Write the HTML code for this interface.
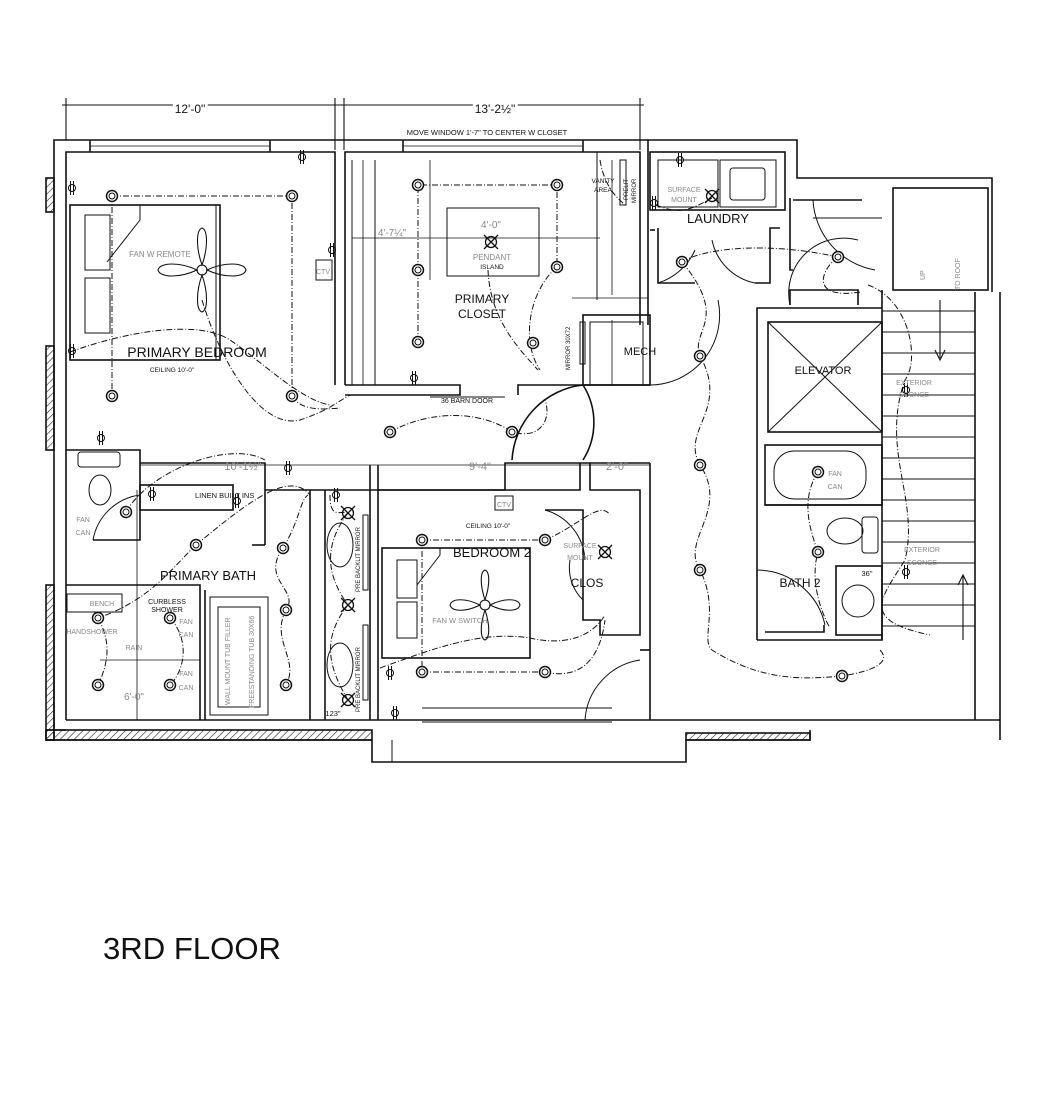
<!DOCTYPE html>
<html><head><meta charset="utf-8"><style>
html,body{margin:0;padding:0;background:#fff;}
svg{display:block;}
text{font-family:"Liberation Sans",sans-serif;fill:#111;}
.g{fill:#888;}
</style></head><body>
<svg width="1044" height="1106" viewBox="0 0 1044 1106" xmlns="http://www.w3.org/2000/svg">
<defs>
<pattern id="h" width="5" height="5" patternUnits="userSpaceOnUse" patternTransform="rotate(45)"><line x1="0" y1="0" x2="0" y2="5" stroke="#222" stroke-width="1.2"/></pattern>
<g id="L"><circle r="5.5" fill="#fff" stroke="#111" stroke-width="1.5"/><circle r="3" fill="none" stroke="#111" stroke-width="1"/></g>
<g id="X"><circle r="5.5" fill="none" stroke="#111" stroke-width="1.3"/><path d="M-7,-7L7,7M7,-7L-7,7" stroke="#111" stroke-width="1.3"/></g>
<g id="O"><circle r="3.5" fill="none" stroke="#111"/><line x1="-1.5" y1="-7" x2="-1.5" y2="7" stroke="#111"/><line x1="1.5" y1="-7" x2="1.5" y2="7" stroke="#111"/></g>
</defs>
<g fill="none" stroke="#111" stroke-width="1.6">
<line x1="62" y1="105" x2="644" y2="105" stroke-width="1.1"/>
<line x1="66" y1="98" x2="66" y2="140" stroke-width="1.1"/>
<line x1="335" y1="98" x2="335" y2="150" stroke-width="1.1"/>
<line x1="344" y1="98" x2="344" y2="150" stroke-width="1.1"/>
<line x1="640" y1="98" x2="640" y2="150" stroke-width="1.1"/>
<polyline points="54,740 54,140 645,140"/>
<polyline points="66,720 66,152 335,152 335,385"/>
<polyline points="345,385 345,152 640,152 640,325"/>
<rect x="46" y="178" width="8" height="34" fill="url(#h)"/>
<rect x="46" y="346" width="8" height="104" fill="url(#h)"/>
<rect x="46" y="585" width="8" height="155" fill="url(#h)"/>
<rect x="46" y="730" width="326" height="10" fill="url(#h)"/>
<rect x="686" y="733" width="124" height="7" fill="url(#h)"/>
<line x1="46" y1="740" x2="372" y2="740"/>
<polyline points="372,740 372,762 686,762 686,740 810,740 810,730"/>
<line x1="392" y1="740" x2="392" y2="762" stroke-width="1"/>
<line x1="66" y1="720" x2="1000" y2="720"/>
<line x1="66" y1="730" x2="46" y2="730"/>
<line x1="422" y1="722" x2="612" y2="722" stroke-width="1"/>
<line x1="422" y1="708" x2="612" y2="708" stroke-width="1"/>
<line x1="90" y1="140" x2="90" y2="152"/><line x1="270" y1="140" x2="270" y2="152"/>
<line x1="90" y1="146" x2="270" y2="146" stroke-width="0.8"/>
<line x1="403" y1="140" x2="403" y2="152"/><line x1="583" y1="140" x2="583" y2="152"/>
<line x1="403" y1="146" x2="583" y2="146" stroke-width="0.8"/>
<polyline points="645,140 797,140 797,178 992,178 992,292"/>
<polyline points="648,140 648,325"/>
<rect x="650" y="152" width="135" height="58"/>
<rect x="658" y="160" width="60" height="47" stroke-width="1"/>
<rect x="720" y="160" width="56" height="47" stroke-width="1"/>
<rect x="730" y="168" width="35" height="32" rx="3" stroke-width="1"/>
<polyline points="658,228 658,283 695,283"/>
<polyline points="655,230 650,230"/>
<polyline points="780,228 770,228 770,283 755,283"/>
<polyline points="790,198 790,270 793,270"/>
<polyline points="793,200 862,200"/>
<line x1="813" y1="218" x2="882" y2="218" stroke-width="1"/>
<rect x="893" y="188" width="95" height="102"/>
<line x1="1000" y1="292" x2="1000" y2="740"/>
<line x1="975" y1="292" x2="975" y2="720"/>
<line x1="882" y1="290" x2="882" y2="640"/>
<g stroke-width="1.1">
<line x1="882" y1="311" x2="975" y2="311"/><line x1="882" y1="332" x2="975" y2="332"/>
<line x1="882" y1="353" x2="975" y2="353"/><line x1="882" y1="374" x2="975" y2="374"/>
<line x1="882" y1="395" x2="975" y2="395"/><line x1="882" y1="416" x2="975" y2="416"/>
<line x1="882" y1="437" x2="975" y2="437"/><line x1="882" y1="458" x2="975" y2="458"/>
<line x1="882" y1="479" x2="975" y2="479"/><line x1="882" y1="500" x2="975" y2="500"/>
<line x1="882" y1="521" x2="975" y2="521"/><line x1="882" y1="542" x2="975" y2="542"/>
<line x1="882" y1="563" x2="975" y2="563"/><line x1="882" y1="584" x2="975" y2="584"/>
<line x1="882" y1="605" x2="975" y2="605"/><line x1="882" y1="626" x2="975" y2="626"/>
<line x1="940" y1="300" x2="940" y2="358"/><path d="M935,350 L940,360 L945,350"/>
<line x1="963" y1="575" x2="963" y2="640"/><path d="M958,585 L963,575 L968,585"/>
</g>
<polyline points="790,305 790,290 858,290 858,305"/>
<polyline points="757,640 757,308 882,308"/>
<rect x="768" y="322" width="114" height="110"/>
<path d="M768,322 L882,432 M882,322 L768,432" stroke-width="1"/>
<rect x="765" y="445" width="117" height="60"/>
<rect x="774" y="451" width="92" height="48" rx="20" stroke-width="1"/>
<line x1="765" y1="505" x2="882" y2="505"/>
<ellipse cx="845" cy="531" rx="18" ry="13" stroke-width="1"/>
<rect x="862" y="517" width="16" height="36" rx="3" stroke-width="1"/>
<rect x="836" y="566" width="46" height="69"/>
<circle cx="858" cy="601" r="16" stroke-width="1"/>
<polyline points="757,640 882,640 882,635"/>
<polyline points="765,632 824,632 824,625"/>
<path d="M757,570 A 70 70 0 0 1 825,625" stroke-width="1"/>
<polyline points="345,385 460,385 460,395 345,395"/>
<polyline points="518,395 518,385 650,385"/>
<line x1="430" y1="397" x2="505" y2="397" stroke-width="1"/>
<rect x="583" y="315" width="67" height="70"/>
<rect x="590" y="322" width="53" height="63" stroke-width="1"/>
<line x1="375" y1="160" x2="375" y2="385" stroke-width="1"/>
<line x1="352" y1="160" x2="352" y2="385" stroke-width="1"/>
<line x1="597" y1="152" x2="597" y2="300" stroke-width="1"/>
<rect x="447" y="208" width="92" height="68" stroke-width="1"/>
<rect x="620" y="160" width="6" height="45" stroke-width="1"/>
<rect x="580" y="322" width="5" height="42" stroke-width="1"/>
<path d="M512,460 A 80 80 0 0 1 583,385" />
<path d="M583,385 A 70 70 0 0 1 583,460"/>
<rect x="70" y="205" width="150" height="155"/>
<rect x="85" y="215" width="25" height="55" stroke-width="1"/>
<rect x="85" y="278" width="25" height="55" stroke-width="1"/>
<polyline points="107,262 140,220 140,205" stroke-width="1"/>
<line x1="216" y1="205" x2="216" y2="360" stroke-width="1"/>
<rect x="316" y="260" width="16" height="20" stroke-width="1"/>
<polyline points="66,450 140,450 140,540 93,540"/>
<polyline points="140,463 265,463 265,545"/>
<polyline points="265,490 505,490 505,463 650,463"/>
<polyline points="252,545 265,545"/>
<rect x="140" y="485" width="93" height="25"/>
<rect x="78" y="452" width="42" height="15" rx="3" stroke-width="1"/>
<ellipse cx="100" cy="490" rx="11" ry="15" stroke-width="1"/>
<path d="M93,540 A 55 55 0 0 1 140,495" stroke-width="1"/>
<polyline points="66,585 200,585 200,720"/>
<polyline points="205,590 205,720"/>
<rect x="210" y="597" width="58" height="118" stroke-width="1"/>
<rect x="218" y="607" width="42" height="100" stroke-width="1"/>
<rect x="67" y="594" width="55" height="18" stroke-width="1"/>
<line x1="310" y1="490" x2="310" y2="720"/>
<line x1="325" y1="490" x2="325" y2="720"/>
<line x1="370" y1="465" x2="370" y2="720"/>
<line x1="378" y1="465" x2="378" y2="720"/>
<ellipse cx="340" cy="545" rx="13" ry="22" stroke-width="1"/>
<ellipse cx="340" cy="665" rx="13" ry="22" stroke-width="1"/>
<rect x="363" y="515" width="5" height="75" stroke-width="1"/>
<rect x="363" y="625" width="5" height="75" stroke-width="1"/>
<polyline points="378,490 580,490 580,463"/>
<polyline points="590,463 590,490 640,490 640,635 600,635 600,620 583,620 583,510 545,510"/>
<polyline points="650,463 650,720"/>
<polyline points="640,650 650,650"/>
<rect x="382" y="548" width="148" height="110"/>
<rect x="397" y="560" width="20" height="38" stroke-width="1"/>
<rect x="397" y="602" width="20" height="36" stroke-width="1"/>
<polyline points="417,585 440,555 440,548" stroke-width="1"/>
<rect x="495" y="496" width="18" height="14" stroke-width="1"/>
<path d="M545,510 A 55 55 0 0 1 585,560" stroke-width="1"/>
<path d="M583,600 A 45 45 0 0 1 570,560" stroke-width="1"/>
<path d="M585,720 A 65 65 0 0 1 640,660" stroke-width="1"/>
<path d="M658,283 A 60 60 0 0 0 695,250" stroke-width="1"/>
<path d="M755,283 A 55 55 0 0 1 712,240" stroke-width="1"/>
<path d="M650,385 A 70 70 0 0 0 718,300" stroke-width="1"/>
<path d="M790,305 A 55 55 0 0 1 858,240" stroke-width="1"/>
<path d="M813,200 A 75 75 0 0 0 875,270" stroke-width="1"/>
</g>
<g stroke="#111" stroke-width="0.8" fill="none">
<line x1="140" y1="465" x2="650" y2="465"/>
<line x1="352" y1="238" x2="600" y2="238"/>
<line x1="363" y1="160" x2="363" y2="385"/>
<line x1="430" y1="160" x2="430" y2="280"/>
<line x1="612" y1="160" x2="612" y2="295"/>
<line x1="612" y1="320" x2="612" y2="385"/>
<line x1="572" y1="298" x2="648" y2="298"/>
<line x1="100" y1="660" x2="200" y2="660"/>
<line x1="137" y1="490" x2="137" y2="720"/>
</g>
<g fill="none" stroke="#111" stroke-width="1" stroke-dasharray="6,2,1,2">
<polyline points="112,196 292,196 292,396"/><line x1="112" y1="196" x2="112" y2="396"/>
<polyline points="418,270 418,185 557,185 557,267"/><line x1="418" y1="270" x2="418" y2="342"/>
<path d="M70,352 C130,330 200,320 230,340 C260,360 300,400 330,405"/>
<path d="M202,300 C220,360 260,430 300,420 C330,410 340,400 350,395"/>
<path d="M292,396 C300,410 320,410 340,408"/>
<path d="M390,432 C430,410 480,410 512,432 C540,440 552,420 545,400"/>
<path d="M488,270 C490,320 520,350 538,370"/>
<path d="M557,267 C530,290 520,340 540,370"/>
<path d="M600,160 C605,190 620,200 625,205"/>
<path d="M656,205 C680,215 690,210 712,198"/>
<path d="M682,262 C700,250 760,240 838,257"/>
<path d="M682,262 C730,320 690,330 700,356 C730,410 680,430 700,465 C730,510 680,540 700,570 C720,610 700,640 712,650 C760,680 800,680 842,676 C880,670 890,660 880,650"/>
<path d="M838,257 C820,270 810,300 860,292"/>
<path d="M868,285 C910,300 920,360 905,380 C880,450 920,500 905,560 C880,600 860,620 930,635"/>
<path d="M818,472 C800,500 810,530 818,552 C810,580 820,610 830,628"/>
<path d="M126,512 C150,470 230,440 265,460"/>
<path d="M196,545 C250,500 290,470 310,495"/>
<path d="M283,548 C300,520 300,500 308,495"/>
<path d="M283,548 C260,580 300,590 286,610 C270,640 300,660 286,685"/>
<path d="M196,545 C170,570 150,600 98,618"/>
<path d="M98,618 C110,640 110,660 98,685"/>
<path d="M170,618 C190,640 185,670 170,685"/>
<path d="M422,540 L545,540"/><path d="M422,540 L422,672 L545,672"/>
<path d="M330,495 C330,520 340,510 348,513"/>
<path d="M348,513 C320,550 330,580 348,605 C320,640 330,670 348,700"/>
<path d="M380,668 C430,650 480,630 530,638 C560,645 590,640 605,615"/>
<path d="M545,672 C580,680 600,660 605,620"/>
<path d="M545,540 C580,525 600,500 610,515"/>
</g>
<g>
<use href="#L" x="112" y="196"/><use href="#L" x="292" y="196"/><use href="#L" x="112" y="396"/><use href="#L" x="292" y="396"/>
<use href="#L" x="418" y="185"/><use href="#L" x="557" y="185"/><use href="#L" x="418" y="270"/><use href="#L" x="557" y="267"/><use href="#L" x="418" y="342"/><use href="#L" x="533" y="343"/>
<use href="#L" x="390" y="432"/><use href="#L" x="512" y="432"/>
<use href="#L" x="682" y="262"/><use href="#L" x="838" y="257"/>
<use href="#L" x="700" y="356"/><use href="#L" x="700" y="465"/><use href="#L" x="700" y="570"/><use href="#L" x="842" y="676"/>
<use href="#L" x="818" y="472"/><use href="#L" x="818" y="552"/>
<use href="#L" x="126" y="512"/><use href="#L" x="196" y="545"/><use href="#L" x="283" y="548"/><use href="#L" x="286" y="610"/><use href="#L" x="286" y="685"/>
<use href="#L" x="98" y="618"/><use href="#L" x="98" y="685"/><use href="#L" x="170" y="618"/><use href="#L" x="170" y="685"/>
<use href="#L" x="422" y="540"/><use href="#L" x="545" y="540"/><use href="#L" x="422" y="672"/><use href="#L" x="545" y="672"/>
<use href="#X" x="348" y="513"/><use href="#X" x="348" y="605"/><use href="#X" x="348" y="700"/>
<use href="#X" x="491" y="242"/><use href="#X" x="605" y="552"/><use href="#X" x="712" y="196"/>
<use href="#O" x="302" y="157"/><use href="#O" x="72" y="188"/><use href="#O" x="72" y="351"/><use href="#O" x="332" y="250"/>
<use href="#O" x="414" y="378"/><use href="#O" x="101" y="438"/><use href="#O" x="152" y="494"/><use href="#O" x="237" y="501"/>
<use href="#O" x="288" y="468"/><use href="#O" x="336" y="495"/><use href="#O" x="390" y="673"/><use href="#O" x="395" y="713"/>
<use href="#O" x="680" y="160"/><use href="#O" x="654" y="203"/><use href="#O" x="906" y="390"/><use href="#O" x="906" y="572"/>
</g>
<g fill="none" stroke="#111" stroke-width="1.1">
<circle cx="202" cy="270" r="5"/>
<path d="M197,270 C180,262 160,262 158,270 C160,278 180,278 197,270Z"/>
<path d="M207,270 C224,262 244,262 246,270 C244,278 224,278 207,270Z"/>
<path d="M202,265 C196,248 196,230 202,228 C208,230 208,248 202,265Z"/>
<path d="M202,275 C196,292 196,310 202,312 C208,310 208,292 202,275Z"/>
<circle cx="485" cy="605" r="5"/>
<path d="M480,605 C466,598 452,598 450,605 C452,612 466,612 480,605Z"/>
<path d="M490,605 C504,598 518,598 520,605 C518,612 504,612 490,605Z"/>
<path d="M485,600 C480,585 480,572 485,570 C490,572 490,585 485,600Z"/>
<path d="M485,610 C480,625 480,638 485,640 C490,638 490,625 485,610Z"/>
</g>
<text x="190" y="113" font-size="12" text-anchor="middle" style="fill:#fff;stroke:#fff;stroke-width:6">12'-0"</text>
<text x="190" y="113" font-size="12" text-anchor="middle">12'-0"</text>
<text x="495" y="113" font-size="12" text-anchor="middle" style="fill:#fff;stroke:#fff;stroke-width:6">13'-2½"</text>
<text x="495" y="113" font-size="12" text-anchor="middle">13'-2½"</text>
<text x="487" y="135" font-size="7.5" text-anchor="middle">MOVE WINDOW 1'-7" TO CENTER W CLOSET</text>
<text x="197" y="357" font-size="14" text-anchor="middle">PRIMARY BEDROOM</text>
<text x="172" y="372" font-size="6.5" text-anchor="middle">CEILING 10'-0"</text>
<text x="160" y="257" font-size="8" class="g" text-anchor="middle">FAN W REMOTE</text>
<text x="482" y="303" font-size="12" text-anchor="middle">PRIMARY</text>
<text x="482" y="318" font-size="12" text-anchor="middle">CLOSET</text>
<text x="492" y="260" font-size="8" class="g" text-anchor="middle">PENDANT</text>
<text x="492" y="269" font-size="6.5" text-anchor="middle">ISLAND</text>
<text x="491" y="228" font-size="10" class="g" text-anchor="middle">4'-0"</text>
<text x="392" y="236" font-size="10" class="g" text-anchor="middle">4'-7¼"</text>
<text x="467" y="403" font-size="7" text-anchor="middle">36 BARN DOOR</text>
<text x="603" y="183" font-size="6.5" text-anchor="middle">VANITY</text>
<text x="603" y="192" font-size="6.5" text-anchor="middle">AREA</text>
<text x="640" y="355" font-size="11" text-anchor="middle">MECH</text>
<text x="718" y="223" font-size="13" text-anchor="middle">LAUNDRY</text>
<text x="684" y="192" font-size="7" class="g" text-anchor="middle">SURFACE</text>
<text x="684" y="202" font-size="7" class="g" text-anchor="middle">MOUNT</text>
<text x="823" y="374" font-size="11" text-anchor="middle">ELEVATOR</text>
<text x="914" y="385" font-size="7" class="g" text-anchor="middle">EXTERIOR</text>
<text x="914" y="397" font-size="7" class="g" text-anchor="middle">SCONCE</text>
<text x="922" y="552" font-size="7" class="g" text-anchor="middle">EXTERIOR</text>
<text x="922" y="565" font-size="7" class="g" text-anchor="middle">SCONCE</text>
<text x="835" y="476" font-size="7" class="g" text-anchor="middle">FAN</text>
<text x="835" y="489" font-size="7" class="g" text-anchor="middle">CAN</text>
<text x="800" y="587" font-size="12" text-anchor="middle">BATH 2</text>
<text x="867" y="576" font-size="7.5" text-anchor="middle">36"</text>
<text x="925" y="280" font-size="7" class="g" transform="rotate(-90 925 280)">UP</text>
<text x="960" y="290" font-size="7" class="g" transform="rotate(-90 960 290)">TO ROOF</text>
<text x="243" y="470" font-size="11" class="g" text-anchor="middle">10'-1½"</text>
<text x="480" y="470" font-size="11" class="g" text-anchor="middle">9'-4"</text>
<text x="617" y="470" font-size="11" class="g" text-anchor="middle">2'-0"</text>
<text x="195" y="498" font-size="7.5">LINEN BUILT INS</text>
<text x="208" y="580" font-size="13" text-anchor="middle">PRIMARY BATH</text>
<text x="83" y="522" font-size="7" class="g" text-anchor="middle">FAN</text>
<text x="83" y="535" font-size="7" class="g" text-anchor="middle">CAN</text>
<text x="102" y="606" font-size="7" class="g" text-anchor="middle">BENCH</text>
<text x="167" y="604" font-size="7" text-anchor="middle">CURBLESS</text>
<text x="167" y="612" font-size="7" text-anchor="middle">SHOWER</text>
<text x="92" y="634" font-size="7" class="g" text-anchor="middle">HANDSHOWER</text>
<text x="134" y="650" font-size="7" class="g" text-anchor="middle">RAIN</text>
<text x="186" y="624" font-size="7" class="g" text-anchor="middle">FAN</text>
<text x="186" y="637" font-size="7" class="g" text-anchor="middle">CAN</text>
<text x="186" y="676" font-size="7" class="g" text-anchor="middle">FAN</text>
<text x="186" y="690" font-size="7" class="g" text-anchor="middle">CAN</text>
<text x="134" y="700" font-size="10" class="g" text-anchor="middle">6'-0"</text>
<text x="230" y="705" font-size="7" class="g" transform="rotate(-90 230 705)">WALL MOUNT TUB FILLER</text>
<text x="254" y="708" font-size="7" class="g" transform="rotate(-90 254 708)">FREESTANDING TUB 30X66</text>
<text x="488" y="528" font-size="6.5" text-anchor="middle">CEILING 10'-0"</text>
<text x="504" y="507" font-size="7" class="g" text-anchor="middle">CTV</text>
<text x="323" y="274" font-size="7" class="g" text-anchor="middle">CTV</text>
<text x="492" y="557" font-size="13" text-anchor="middle">BEDROOM 2</text>
<text x="460" y="623" font-size="7.5" class="g" text-anchor="middle">FAN W SWITCH</text>
<text x="580" y="548" font-size="7" class="g" text-anchor="middle">SURFACE</text>
<text x="580" y="560" font-size="7" class="g" text-anchor="middle">MOUNT</text>
<text x="587" y="587" font-size="12" text-anchor="middle">CLOS</text>
<text x="333" y="716" font-size="7.5" text-anchor="middle">123"</text>
<text x="360" y="592" font-size="6" transform="rotate(-90 360 592)">PRE BACKLIT MIRROR</text>
<text x="360" y="712" font-size="6" transform="rotate(-90 360 712)">PRE BACKLIT MIRROR</text>
<text x="570" y="370" font-size="6" transform="rotate(-90 570 370)">MIRROR 30X72</text>
<text x="628" y="200" font-size="6" transform="rotate(-90 628 200)">PRELIT</text>
<text x="636" y="203" font-size="6" transform="rotate(-90 636 203)">MIRROR</text>
<text x="103" y="959" font-size="31" textLength="178" lengthAdjust="spacingAndGlyphs">3RD FLOOR</text>
</svg>
</body></html>
